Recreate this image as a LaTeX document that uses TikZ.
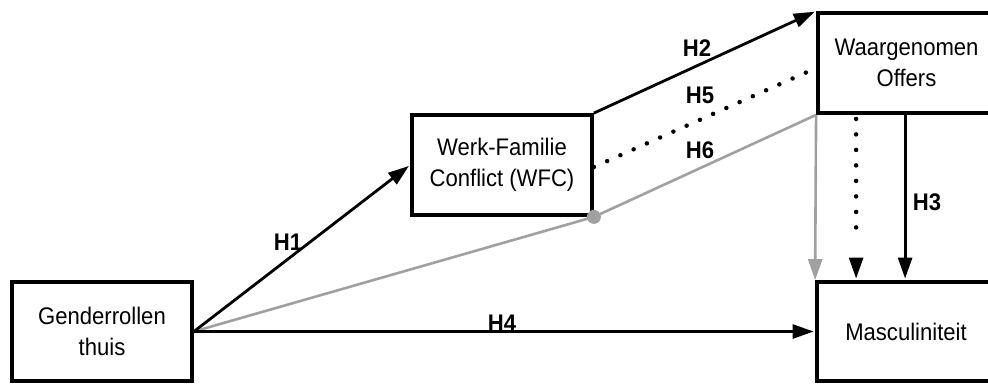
\documentclass[tikz,border=0pt]{standalone}
\usepackage{fontspec}
\setmainfont[FakeStretch=0.92]{Liberation Sans}
\usetikzlibrary{arrows.meta}
\definecolor{lgray}{RGB}{160,160,160}
\begin{document}
\begin{tikzpicture}[x=1pt,y=-1pt,
  box/.style={draw, line width=3.8pt, rectangle, inner sep=0pt, align=center,
    font=\fontsize{24}{31}\selectfont},
  lab/.style={inner sep=0pt, font=\fontsize{24}{26}\selectfont\bfseries},
  tip/.style={-{Triangle[length=21pt,width=14pt]}},
  arr/.style={line width=2.8pt, tip, shorten >=1.5pt},
  dotline/.style={line width=4.5pt, line cap=round, dash pattern=on 0pt off 14.5pt},
  vdotline/.style={line width=4.5pt, line cap=round, dash pattern=on 0pt off 15.5pt},
  grayline/.style={line width=2.6pt, draw=lgray}
]
\useasboundingbox (0,0) rectangle (988,383);
\clip (0,0) rectangle (988,383);

\node[box, minimum width=180pt, minimum height=99pt] (g) at (102,331.5) {Genderrollen\\thuis};
\node[box, minimum width=180pt, minimum height=100pt] (wfc) at (502,165) {Werk-Familie\\Conflict (WFC)};
\node[box, minimum width=177pt, minimum height=100pt] (wo) at (906.5,63) {Waargenomen\\Offers};
\node[box, minimum width=178pt, minimum height=99pt] (m) at (906,331.5) {Masculiniteit};

% H6 gray path
\draw[grayline] (g.east) -- (wfc.south east) -- (wo.south west);
\draw[grayline, tip, fill=lgray] (wo.south west) -- (m.north west);
\fill[lgray] (wfc.south east) circle (7pt);

% H1, H4, H2
\draw[arr] (g.east) -- (wfc.west);
\draw[arr] (g.east) -- (m.west);
\draw[arr] (wfc.north east) -- (wo.north west);

% H5 dotted
\draw[dotline] ([yshift=-2pt]wfc.east) -- ([yshift=-5pt]wo.west);

% vertical arrows
\draw[vdotline] ([xshift=40pt,yshift=-4pt]wo.south west) -- ([xshift=41pt,yshift=38pt]m.north west);
\draw[line width=2.8pt, tip, shorten >=1.5pt] ([xshift=41pt,yshift=22pt]m.north west) -- ([xshift=41pt]m.north west);
\draw[arr] ([xshift=89pt]wo.south west) -- ([xshift=90pt]m.north west);

% labels
\node[lab] (h1) at (288,242) {H1};
\node[lab] (h2) at (697,48) {H2};
\node[lab] (h5) at (700,95) {H5};
\node[lab] (h6) at (700,150) {H6};
\node[lab] (h4) at (502,323) {H4};
\node[lab] (h3) at (927,202) {H3};
\end{tikzpicture}
\end{document}
